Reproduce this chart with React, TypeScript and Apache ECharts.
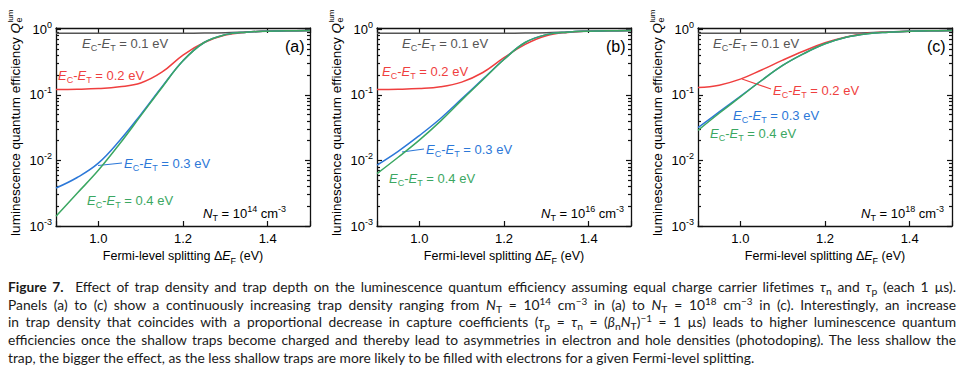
import React, { useEffect, useRef } from 'react';
import * as echarts from 'echarts';

// ---------- data ----------
const X_VALUES = [0.9, 0.95, 1.0, 1.05, 1.1, 1.15, 1.2, 1.25, 1.3, 1.35, 1.4, 1.45, 1.5];

const GRAY_01 = [0.87, 0.87, 0.87, 0.87, 0.87, 0.871, 0.873, 0.878, 0.89, 0.915, 0.94, 0.955, 0.96];

const RED_A = [0.121, 0.122, 0.125, 0.133, 0.152, 0.222, 0.405, 0.63, 0.82, 0.905, 0.94, 0.955, 0.96];
const BLUE_A = [0.0038, 0.0055, 0.0091, 0.020, 0.050, 0.132, 0.333, 0.631, 0.832, 0.908, 0.94, 0.955, 0.96];
const GREEN_A = [0.00141, 0.00316, 0.00708, 0.0178, 0.0479, 0.129, 0.331, 0.631, 0.832, 0.908, 0.94, 0.955, 0.96];

const RED_B = [0.121, 0.122, 0.125, 0.133, 0.157, 0.22, 0.37, 0.59, 0.8, 0.9, 0.94, 0.955, 0.96];
const BLUE_B = [0.0085, 0.0138, 0.024, 0.0437, 0.0871, 0.174, 0.35, 0.631, 0.832, 0.908, 0.94, 0.955, 0.96];
const GREEN_B = [0.0063, 0.0112, 0.0204, 0.0398, 0.0832, 0.17, 0.347, 0.631, 0.832, 0.908, 0.94, 0.955, 0.96];

const RED_C = [0.13, 0.141, 0.174, 0.24, 0.339, 0.468, 0.624, 0.767, 0.871, 0.912, 0.94, 0.955, 0.96];
const BLUE_C = [0.0316, 0.055, 0.0955, 0.166, 0.282, 0.427, 0.603, 0.759, 0.861, 0.908, 0.94, 0.955, 0.96];
const GREEN_C = [0.0288, 0.0525, 0.0933, 0.166, 0.282, 0.427, 0.603, 0.759, 0.861, 0.908, 0.94, 0.955, 0.96];

const PANEL_TAGS = ['(a)', '(b)', '(c)'];
const NT_EXPONENTS = ['14', '16', '18'];
const DEPTHS = ['0.1', '0.2', '0.3', '0.4'];
const X_MIN = 0.9;
const X_MAX = 1.5;
const Y_MIN = 0.001;
const Y_MAX = 1.05;

const PANELS = [
  { red: RED_A, blue: BLUE_A, green: GREEN_A },
  { red: RED_B, blue: BLUE_B, green: GREEN_B },
  { red: RED_C, blue: BLUE_C, green: GREEN_C },
];

// ---------- style ----------
const FONT = '"Liberation Sans", Arial, Helvetica, sans-serif';
const C_GRAY = '#555555';
const C_RED = '#ef3f3f';
const C_BLUE = '#2c78d8';
const C_GREEN = '#3ba762';
const GRID_LEFT = 56;
const GRID_STEP = 321;
const GRID_TOP = 28;
const GRID_W = 254;
const GRID_H = 198;

function depthLabel(depth: string, color: string, x: number, y: number) {
  return {
    type: 'text',
    x,
    y,
    silent: true,
    style: {
      text: `{i|E}{s|C}{n|-}{i|E}{s|T}{n| = ${depth} eV}`,
      align: 'left',
      verticalAlign: 'middle',
      rich: {
        i: { fontStyle: 'italic', fontSize: 13, fill: color, lineHeight: 18, fontFamily: FONT, verticalAlign: 'middle' },
        n: { fontSize: 13, fill: color, lineHeight: 18, fontFamily: FONT, verticalAlign: 'middle' },
        s: { fontSize: 9, fill: color, lineHeight: 10, fontFamily: FONT, verticalAlign: 'bottom' },
      },
    },
  };
}

function ntLabel(exp: string, x: number, y: number) {
  return {
    type: 'text',
    x,
    y,
    silent: true,
    style: {
      text: `{i|N}{s|T}{n| = 10}{p|${exp}}{n| cm}{p|-3}`,
      align: 'left',
      verticalAlign: 'middle',
      rich: {
        i: { fontStyle: 'italic', fontSize: 13, fill: '#000', lineHeight: 18, fontFamily: FONT, verticalAlign: 'middle' },
        n: { fontSize: 13, fill: '#000', lineHeight: 18, fontFamily: FONT, verticalAlign: 'middle' },
        s: { fontSize: 9, fill: '#000', lineHeight: 10, fontFamily: FONT, verticalAlign: 'bottom' },
        p: { fontSize: 9, fill: '#000', lineHeight: 10, fontFamily: FONT, verticalAlign: 'top' },
      },
    },
  };
}

function leader(x1: number, y1: number, x2: number, y2: number, color: string) {
  return { type: 'line', silent: true, shape: { x1, y1, x2, y2 }, style: { stroke: color, lineWidth: 1.2 } };
}

function yTitle(x: number) {
  return {
    type: 'group',
    x,
    y: 23,
    rotation: Math.PI / 2,
    silent: true,
    children: [
      {
        type: 'text',
        x: 0,
        y: 0,
        style: {
          text: '{n|luminescence quantum efficiency }{i|Q}',
          align: 'right',
          verticalAlign: 'middle',
          rich: {
            n: { fontSize: 13.5, fill: '#000', fontFamily: FONT, lineHeight: 16 },
            i: { fontSize: 13.5, fill: '#000', fontFamily: FONT, fontStyle: 'italic', lineHeight: 16 },
          },
        },
      },
      { type: 'text', x: 0.5, y: 4, style: { text: 'e', fontSize: 9, fill: '#000', fontFamily: FONT, align: 'left', verticalAlign: 'middle' } },
      { type: 'text', x: 0.5, y: -5, style: { text: 'lum', fontSize: 8, fill: '#000', fontFamily: FONT, align: 'left', verticalAlign: 'middle' } },
    ],
  };
}

function yLabel(v: number) {
  const l = Math.log10(v);
  const e = Math.round(l);
  if (Math.abs(l - e) > 1e-6) return '';
  return `{b|10}{s|${e}}`;
}

function buildOption() {
  const grids: any[] = [];
  const xAxes: any[] = [];
  const yAxes: any[] = [];
  const series: any[] = [];
  const axisLine = { show: true, onZero: false, lineStyle: { color: '#111', width: 1.3 } };
  const tickStyle = { color: '#111', width: 1.2 };

  PANELS.forEach((p, i) => {
    grids.push({ left: GRID_LEFT + GRID_STEP * i, top: GRID_TOP, width: GRID_W, height: GRID_H });
    const xBase = {
      type: 'value',
      gridIndex: i,
      min: X_MIN,
      max: X_MAX,
      splitNumber: 3,
      axisLine,
      axisTick: { show: true, inside: true, length: 5, lineStyle: tickStyle },
      splitLine: { show: false },
    };
    xAxes.push({
      ...xBase,
      position: 'bottom',
      axisLabel: {
        show: true,
        margin: 6,
        fontSize: 13,
        color: '#000',
        fontFamily: FONT,
        formatter: (v: number) => (v < 0.95 || v > 1.45 ? '' : v.toFixed(1)),
      },
      name: '{n|Fermi-level splitting Δ}{i|E}{s|F}{n| (eV)}',
      nameLocation: 'middle',
      nameGap: 21,
      nameTextStyle: {
        rich: {
          n: { fontSize: 12.5, color: '#000', fontFamily: FONT, lineHeight: 18, verticalAlign: 'middle' },
          i: { fontSize: 12.5, color: '#000', fontFamily: FONT, fontStyle: 'italic', lineHeight: 18, verticalAlign: 'middle' },
          s: { fontSize: 9, color: '#000', fontFamily: FONT, lineHeight: 10, verticalAlign: 'bottom' },
        },
      },
    });
    xAxes.push({ ...xBase, position: 'top', axisLabel: { show: false } });

    const yBase = {
      type: 'log',
      logBase: 10,
      gridIndex: i,
      min: Y_MIN,
      max: Y_MAX,
      axisLine,
      axisTick: { show: true, inside: true, length: 5, lineStyle: tickStyle },
      minorTick: { show: true, splitNumber: 9, length: 3, lineStyle: tickStyle },
      splitLine: { show: false },
      minorSplitLine: { show: false },
    };
    yAxes.push({
      ...yBase,
      position: 'left',
      axisLabel: {
        show: true,
        margin: 4,
        formatter: yLabel,
        rich: {
          b: { fontSize: 13, color: '#000', fontFamily: FONT, lineHeight: 18 },
          s: { fontSize: 9, color: '#000', fontFamily: FONT, lineHeight: 11, verticalAlign: 'top' },
        },
      },
    });
    yAxes.push({ ...yBase, position: 'right', axisLabel: { show: false } });

    const lines = [
      { d: GRAY_01, c: C_GRAY, n: '0.1' },
      { d: p.red, c: C_RED, n: '0.2' },
      { d: p.blue, c: C_BLUE, n: '0.3' },
      { d: p.green, c: C_GREEN, n: '0.4' },
    ];
    lines.forEach((ln) => {
      series.push({
        type: 'line',
        name: `${PANEL_TAGS[i]} ${ln.n} eV`,
        xAxisIndex: 2 * i,
        yAxisIndex: 2 * i,
        data: X_VALUES.map((x, k) => [x, ln.d[k]]),
        symbol: 'none',
        showSymbol: false,
        smooth: 0.4,
        silent: true,
        lineStyle: { color: ln.c, width: 1.5 },
      });
    });
  });

  const graphic: any[] = [
    // panel a
    depthLabel(DEPTHS[0], C_GRAY, 82, 43),
    depthLabel(DEPTHS[1], C_RED, 58, 75),
    leader(98, 165.5, 122, 163, C_BLUE),
    depthLabel(DEPTHS[2], C_BLUE, 124, 163),
    depthLabel(DEPTHS[3], C_GREEN, 87, 200),
    ntLabel(NT_EXPONENTS[0], 203, 213),
    // panel b
    depthLabel(DEPTHS[0], C_GRAY, 402, 43),
    depthLabel(DEPTHS[1], C_RED, 382, 71),
    leader(402, 152, 424, 149, C_BLUE),
    depthLabel(DEPTHS[2], C_BLUE, 426, 149),
    depthLabel(DEPTHS[3], C_GREEN, 389, 178),
    ntLabel(NT_EXPONENTS[1], 541, 213),
    // panel c
    depthLabel(DEPTHS[0], C_GRAY, 713, 43),
    leader(742, 79, 771, 89, C_RED),
    depthLabel(DEPTHS[1], C_RED, 773, 90),
    depthLabel(DEPTHS[2], C_BLUE, 733, 115),
    depthLabel(DEPTHS[3], C_GREEN, 710, 133),
    ntLabel(NT_EXPONENTS[2], 861, 213),
  ];
  PANEL_TAGS.forEach((t, i) => {
    graphic.push({
      type: 'text',
      x: 285 + GRID_STEP * i,
      y: 46,
      silent: true,
      style: { text: t, fontSize: 16, fill: '#000', fontFamily: FONT, align: 'left', verticalAlign: 'middle' },
    });
    graphic.push(yTitle(15 + GRID_STEP * i));
  });

  return {
    animation: false,
    backgroundColor: '#ffffff',
    grid: grids,
    xAxis: xAxes,
    yAxis: yAxes,
    series,
    graphic,
  };
}

const supStyle: React.CSSProperties = { fontSize: '0.72em', verticalAlign: '0.5em', lineHeight: 0 };
const subStyle: React.CSSProperties = { fontSize: '0.75em', verticalAlign: '-0.3em', lineHeight: 0 };

function Caption() {
  const lineStyle: React.CSSProperties = { height: '17.7px', textAlign: 'justify', textAlignLast: 'justify' };
  const last: React.CSSProperties = { height: '17.7px', textAlign: 'left' };
  return (
    <div
      style={{
        position: 'absolute',
        left: 8,
        top: 278,
        width: 948,
        fontFamily: 'Lato, "Noto Sans", sans-serif',
        fontSize: 13.8,
        lineHeight: '17.7px',
        color: '#1a1a1a',
      }}
    >
      <div style={lineStyle}>
        <b>Figure 7.</b>&nbsp; Effect of trap density and trap depth on the luminescence quantum efficiency assuming equal charge carrier lifetimes{' '}
        <i>τ</i><span style={subStyle}>n</span> and <i>τ</i><span style={subStyle}>p</span> (each 1 µs).
      </div>
      <div style={lineStyle}>
        Panels (a) to (c) show a continuously increasing trap density ranging from <i>N</i><span style={subStyle}>T</span> = 10
        <span style={supStyle}>14</span> cm<span style={supStyle}>−3</span> in (a) to <i>N</i><span style={subStyle}>T</span> = 10
        <span style={supStyle}>18</span> cm<span style={supStyle}>−3</span> in (c). Interestingly, an increase
      </div>
      <div style={lineStyle}>
        in trap density that coincides with a proportional decrease in capture coefficients (<i>τ</i><span style={subStyle}>p</span> ={' '}
        <i>τ</i><span style={subStyle}>n</span> = (<i>β</i><span style={subStyle}>n</span><i>N</i><span style={subStyle}>T</span>)
        <span style={supStyle}>−1</span> = 1 µs) leads to higher luminescence quantum
      </div>
      <div style={lineStyle}>
        efficiencies once the shallow traps become charged and thereby lead to asymmetries in electron and hole densities (photodoping). The less shallow the
      </div>
      <div style={last}>
        trap, the bigger the effect, as the less shallow traps are more likely to be filled with electrons for a given Fermi-level splitting.
      </div>
    </div>
  );
}

export default function App() {
  const ref = useRef<HTMLDivElement>(null);
  useEffect(() => {
    if (!ref.current) return;
    const chart = echarts.init(ref.current, undefined, { renderer: 'svg' });
    chart.setOption(buildOption() as any);
    return () => chart.dispose();
  }, []);
  return (
    <div style={{ position: 'fixed', left: 0, top: 0, width: 964, height: 375, background: '#fff', overflow: 'hidden' }}>
      <div ref={ref} style={{ position: 'absolute', left: 0, top: 0, width: 964, height: 375 }} />
      <Caption />
    </div>
  );
}
